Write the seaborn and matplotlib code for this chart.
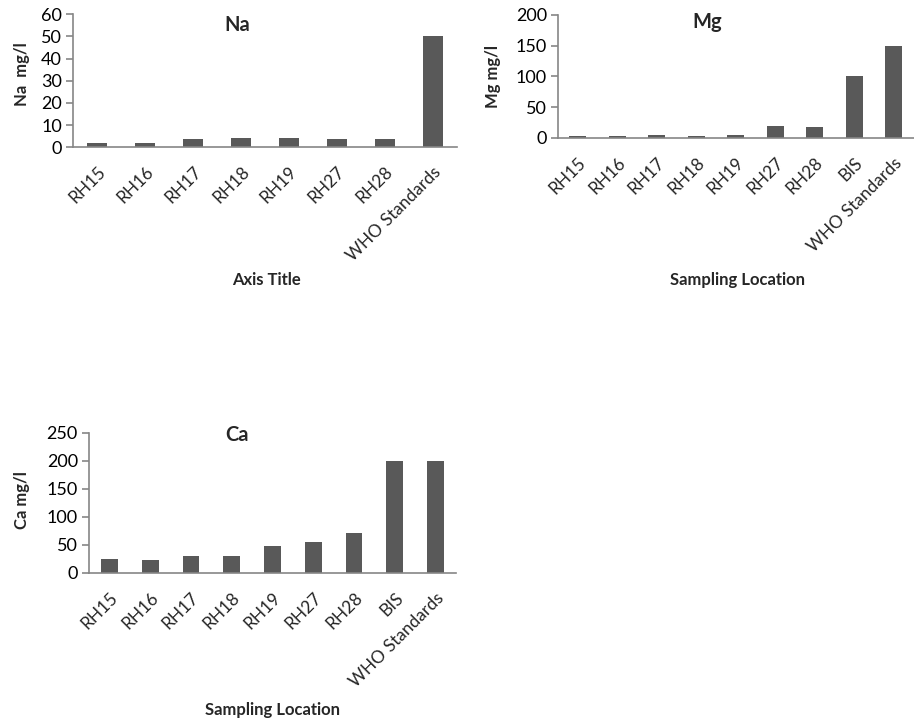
import numpy as np
import pandas as pd
import matplotlib
matplotlib.use("Agg")
import matplotlib.pyplot as plt
import seaborn as sns

# -------------------------
# Data
# -------------------------
na_sites = ["RH15", "RH16", "RH17", "RH18", "RH19", "RH27", "RH28", "WHO Standards"]
na_values = [1.8, 1.7, 3.6, 4.0, 4.0, 3.5, 3.5, 50]

mg_sites = ["RH15", "RH16", "RH17", "RH18", "RH19", "RH27", "RH28", "BIS", "WHO Standards"]
mg_values = [4, 4, 5, 4, 5, 19, 18, 100, 150]

ca_sites = ["RH15", "RH16", "RH17", "RH18", "RH19", "RH27", "RH28", "BIS", "WHO Standards"]
ca_values = [25, 24, 30, 31, 48, 56, 71, 200, 200]

BAR = "#595959"
SPINE = "#868686"

sns.set_theme(style="white")
plt.rcParams["font.family"] = ["Lato", "DejaVu Sans"]


def bar_panel(ax, sites, values, ymax, ystep, title, ylabel, xlabel,
              title_xy, ylabel_xy, xlabel_xy, width):
    df = pd.DataFrame({"site": sites, "value": values})
    sns.barplot(data=df, x="site", y="value", color=BAR, saturation=1,
                width=width, linewidth=0, ax=ax)
    ax.set_xlim(-0.5, len(sites) - 0.5)
    ax.set_ylim(0, ymax)
    ax.set_yticks(np.arange(0, ymax + 1, ystep))
    ax.tick_params(axis="y", labelsize=13, length=5, width=1.2, color=SPINE,
                   direction="out", left=True, pad=3, labelcolor="black")
    ax.tick_params(axis="x", labelsize=12.5, length=0, pad=12)
    for lbl in ax.get_xticklabels():
        lbl.set_rotation(45)
        lbl.set_ha("right")
        lbl.set_rotation_mode("anchor")
    for side in ["top", "right"]:
        ax.spines[side].set_visible(False)
    for side in ["left", "bottom"]:
        ax.spines[side].set_color(SPINE)
        ax.spines[side].set_linewidth(1.2)
    ax.text(title_xy[0], title_xy[1], title, transform=ax.transAxes,
            ha="center", va="center", fontsize=14.5, fontweight="bold")
    ax.set_ylabel(ylabel, fontsize=12, fontweight="bold", va="center")
    ax.yaxis.set_label_coords(*ylabel_xy)
    ax.set_xlabel(xlabel, fontsize=12, fontweight="bold", va="center")
    ax.xaxis.set_label_coords(*xlabel_xy)


fig = plt.figure(figsize=(9.14, 7.25), dpi=100)

ax_na = fig.add_axes([0.0799, 0.797, 0.420, 0.1834])
bar_panel(ax_na, na_sites, na_values, 60, 10, "Na", "Na  mg/l", "Axis Title",
          (0.427, 0.917), (-0.133, 0.55), (0.505, -1.0), 0.4)

ax_mg = fig.add_axes([0.6105, 0.8097, 0.389, 0.1697])
bar_panel(ax_mg, mg_sites, mg_values, 200, 50, "Mg", "Mg mg/l", "Sampling Location",
          (0.419, 0.943), (-0.183, 0.5), (0.506, -1.155), 0.42)

ax_ca = fig.add_axes([0.0974, 0.2097, 0.4015, 0.1931])
bar_panel(ax_ca, ca_sites, ca_values, 250, 50, "Ca", "Ca mg/l", "Sampling Location",
          (0.403, 0.986), (-0.183, 0.52), (0.5, -0.979), 0.41)

fig.savefig("out.png", dpi=100, facecolor="white")
